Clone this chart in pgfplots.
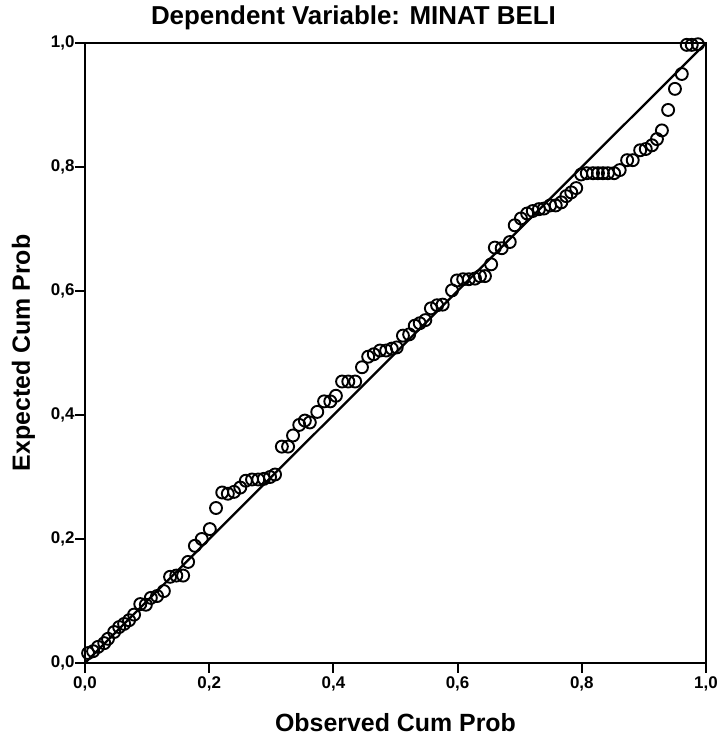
\documentclass[border=0pt]{standalone}
\usepackage{fontspec}
\setmainfont{Liberation Sans}
\usepackage{pgfplots}
\pgfplotsset{compat=1.18}

\begin{document}
\begin{tikzpicture}
\begin{axis}[
    name=ax,
    scale only axis,
    width=621bp, height=620bp,
    xmin=0, xmax=1, ymin=0, ymax=1,
    xtick={0,0.2,0.4,0.6,0.8,1},
    ytick={0,0.2,0.4,0.6,0.8,1},
    axis line style={line width=2.6pt},
    tick style={line width=2pt, black},
    tick align=outside,
    major tick length=10bp,
    xtick pos=bottom, ytick pos=left,
    /pgf/number format/.cd, use comma, fixed, fixed zerofill, precision=1, assume math mode=true,
    /pgfplots/.cd,
    ticklabel style={font=\fontsize{17}{19}\selectfont\bfseries},
    yticklabel style={xshift=3bp},
    title={\textbf{Dependent Variable: MINAT BELI}},
    title style={font=\fontsize{26}{30}\selectfont, inner sep=0pt, anchor=base,
        at={([xshift=-42bp,yshift=13bp]axis description cs:0.5,1)}},
    xlabel={\textbf{Observed Cum Prob}},
    ylabel={\textbf{Expected Cum Prob}},
    label style={font=\fontsize{25}{29}\selectfont, inner sep=0pt},
    xlabel style={anchor=base, at={([yshift=-68bp]axis description cs:0.5,0)}},
    ylabel style={anchor=base, rotate=0, at={([xshift=-55bp]axis description cs:0,0.5)}},
    clip=false,
]
\addplot[black, line width=2.3pt] coordinates {(0,0) (1,1)};
\addplot[only marks, mark=o, mark size=6bp, mark options={line width=1.9pt, black}]
coordinates {
(0.005,0.016) (0.013,0.019) (0.021,0.026) (0.031,0.032) (0.037,0.039)
(0.047,0.050) (0.055,0.058) (0.063,0.063) (0.071,0.069) (0.079,0.078)
(0.089,0.095) (0.098,0.094) (0.106,0.105) (0.116,0.108) (0.127,0.116)
(0.137,0.139) (0.147,0.141) (0.158,0.141) (0.166,0.163) (0.177,0.189)
(0.188,0.200) (0.201,0.216) (0.211,0.250) (0.221,0.275) (0.230,0.273)
(0.240,0.276) (0.250,0.283) (0.259,0.294) (0.269,0.296) (0.279,0.296)
(0.288,0.297) (0.298,0.300) (0.306,0.304) (0.317,0.349) (0.327,0.349)
(0.335,0.367) (0.345,0.384) (0.354,0.391) (0.362,0.388) (0.374,0.405)
(0.385,0.422) (0.395,0.422) (0.404,0.431) (0.414,0.454) (0.424,0.454)
(0.435,0.454) (0.446,0.477) (0.456,0.494) (0.465,0.498) (0.475,0.504)
(0.485,0.504) (0.494,0.507) (0.502,0.509) (0.512,0.528) (0.522,0.530)
(0.531,0.544) (0.539,0.548) (0.548,0.553) (0.557,0.572) (0.567,0.577)
(0.576,0.578) (0.591,0.601) (0.599,0.617) (0.609,0.619) (0.618,0.619)
(0.628,0.620) (0.636,0.624) (0.644,0.624) (0.654,0.643) (0.660,0.670)
(0.671,0.669) (0.684,0.679) (0.692,0.706) (0.702,0.717) (0.712,0.725)
(0.721,0.729) (0.731,0.732) (0.739,0.733) (0.749,0.738) (0.758,0.738)
(0.767,0.743) (0.775,0.753) (0.783,0.759) (0.791,0.766) (0.799,0.788)
(0.808,0.790) (0.818,0.790) (0.826,0.790) (0.834,0.790) (0.842,0.790)
(0.852,0.790) (0.861,0.795) (0.873,0.811) (0.882,0.811) (0.894,0.827)
(0.903,0.829) (0.913,0.835) (0.921,0.845) (0.929,0.859) (0.939,0.892)
(0.950,0.926) (0.961,0.950) (0.969,0.997) (0.977,0.997) (0.987,0.998)
};
\end{axis}
\pgfresetboundingbox
\path ([shift={(-85bp,-75bp)}]ax.south west) rectangle ([shift={(13bp,43bp)}]ax.north east);
\end{tikzpicture}
\end{document}
